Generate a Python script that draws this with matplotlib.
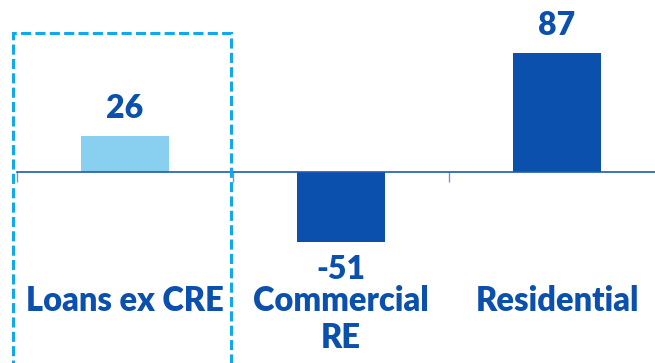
import numpy as np
import matplotlib as mpl
from matplotlib import pyplot as plt
from matplotlib.patches import Rectangle

categories = ['Loans ex CRE', 'Commercial\nRE', 'Residential']
values = [26, -51, 87]
bar_colors = ['#89D0F0', '#0A50AC', '#0A50AC']

text_color = '#0A50AC'
box_color = '#12A8EE'

plt.rcParams['font.family'] = ['Lato', 'DejaVu Sans']

fig = plt.figure(figsize=(6.55, 3.63), dpi=100)
# axes spans slightly past the right edge, like the source slide
ax = fig.add_axes([17 / 655, 0, 648 / 655, 1])

x = np.arange(len(categories))
ax.bar(x, values, width=0.41, color=bar_colors, zorder=2)

ax.set_xlim(-0.5, 2.5)
ax.set_ylim(-139.4, 125.5)

for s in ['top', 'right', 'left']:
    ax.spines[s].set_visible(False)
ax.spines['bottom'].set_position(('data', 0))
ax.spines['bottom'].set_color('#1F5BB0')
ax.spines['bottom'].set_linewidth(1.2)
ax.set_yticks([])
ax.set_xticks(np.arange(-0.5, 3, 1))
ax.set_xticklabels([])
ax.tick_params(axis='x', direction='out', length=7, width=1, color='#7F95BF')

for xi, v in zip(x, values):
    off = 13 if v > 0 else -27
    ax.annotate(f'{v}', (xi, v), xytext=(0, off), textcoords='offset points',
                ha='center', va='baseline', fontsize=23, fontweight='heavy',
                color=text_color)

for xi, c in zip(x, categories):
    for j, line in enumerate(c.split('\n')):
        ax.annotate(line, (xi, -101.5), xytext=(0, -26.6 * j),
                    textcoords='offset points', ha='center', va='baseline',
                    fontsize=23.5, fontweight='heavy', color=text_color)

# highlight box around the first category
box = Rectangle((-0.5185, -160), 1.009, 101.5 + 160, fill=False,
                edgecolor=box_color, linewidth=2.2, linestyle=(0, (3.3, 1.4)),
                clip_on=False, zorder=3)
ax.add_patch(box)

fig.savefig('out.png', dpi=100)
